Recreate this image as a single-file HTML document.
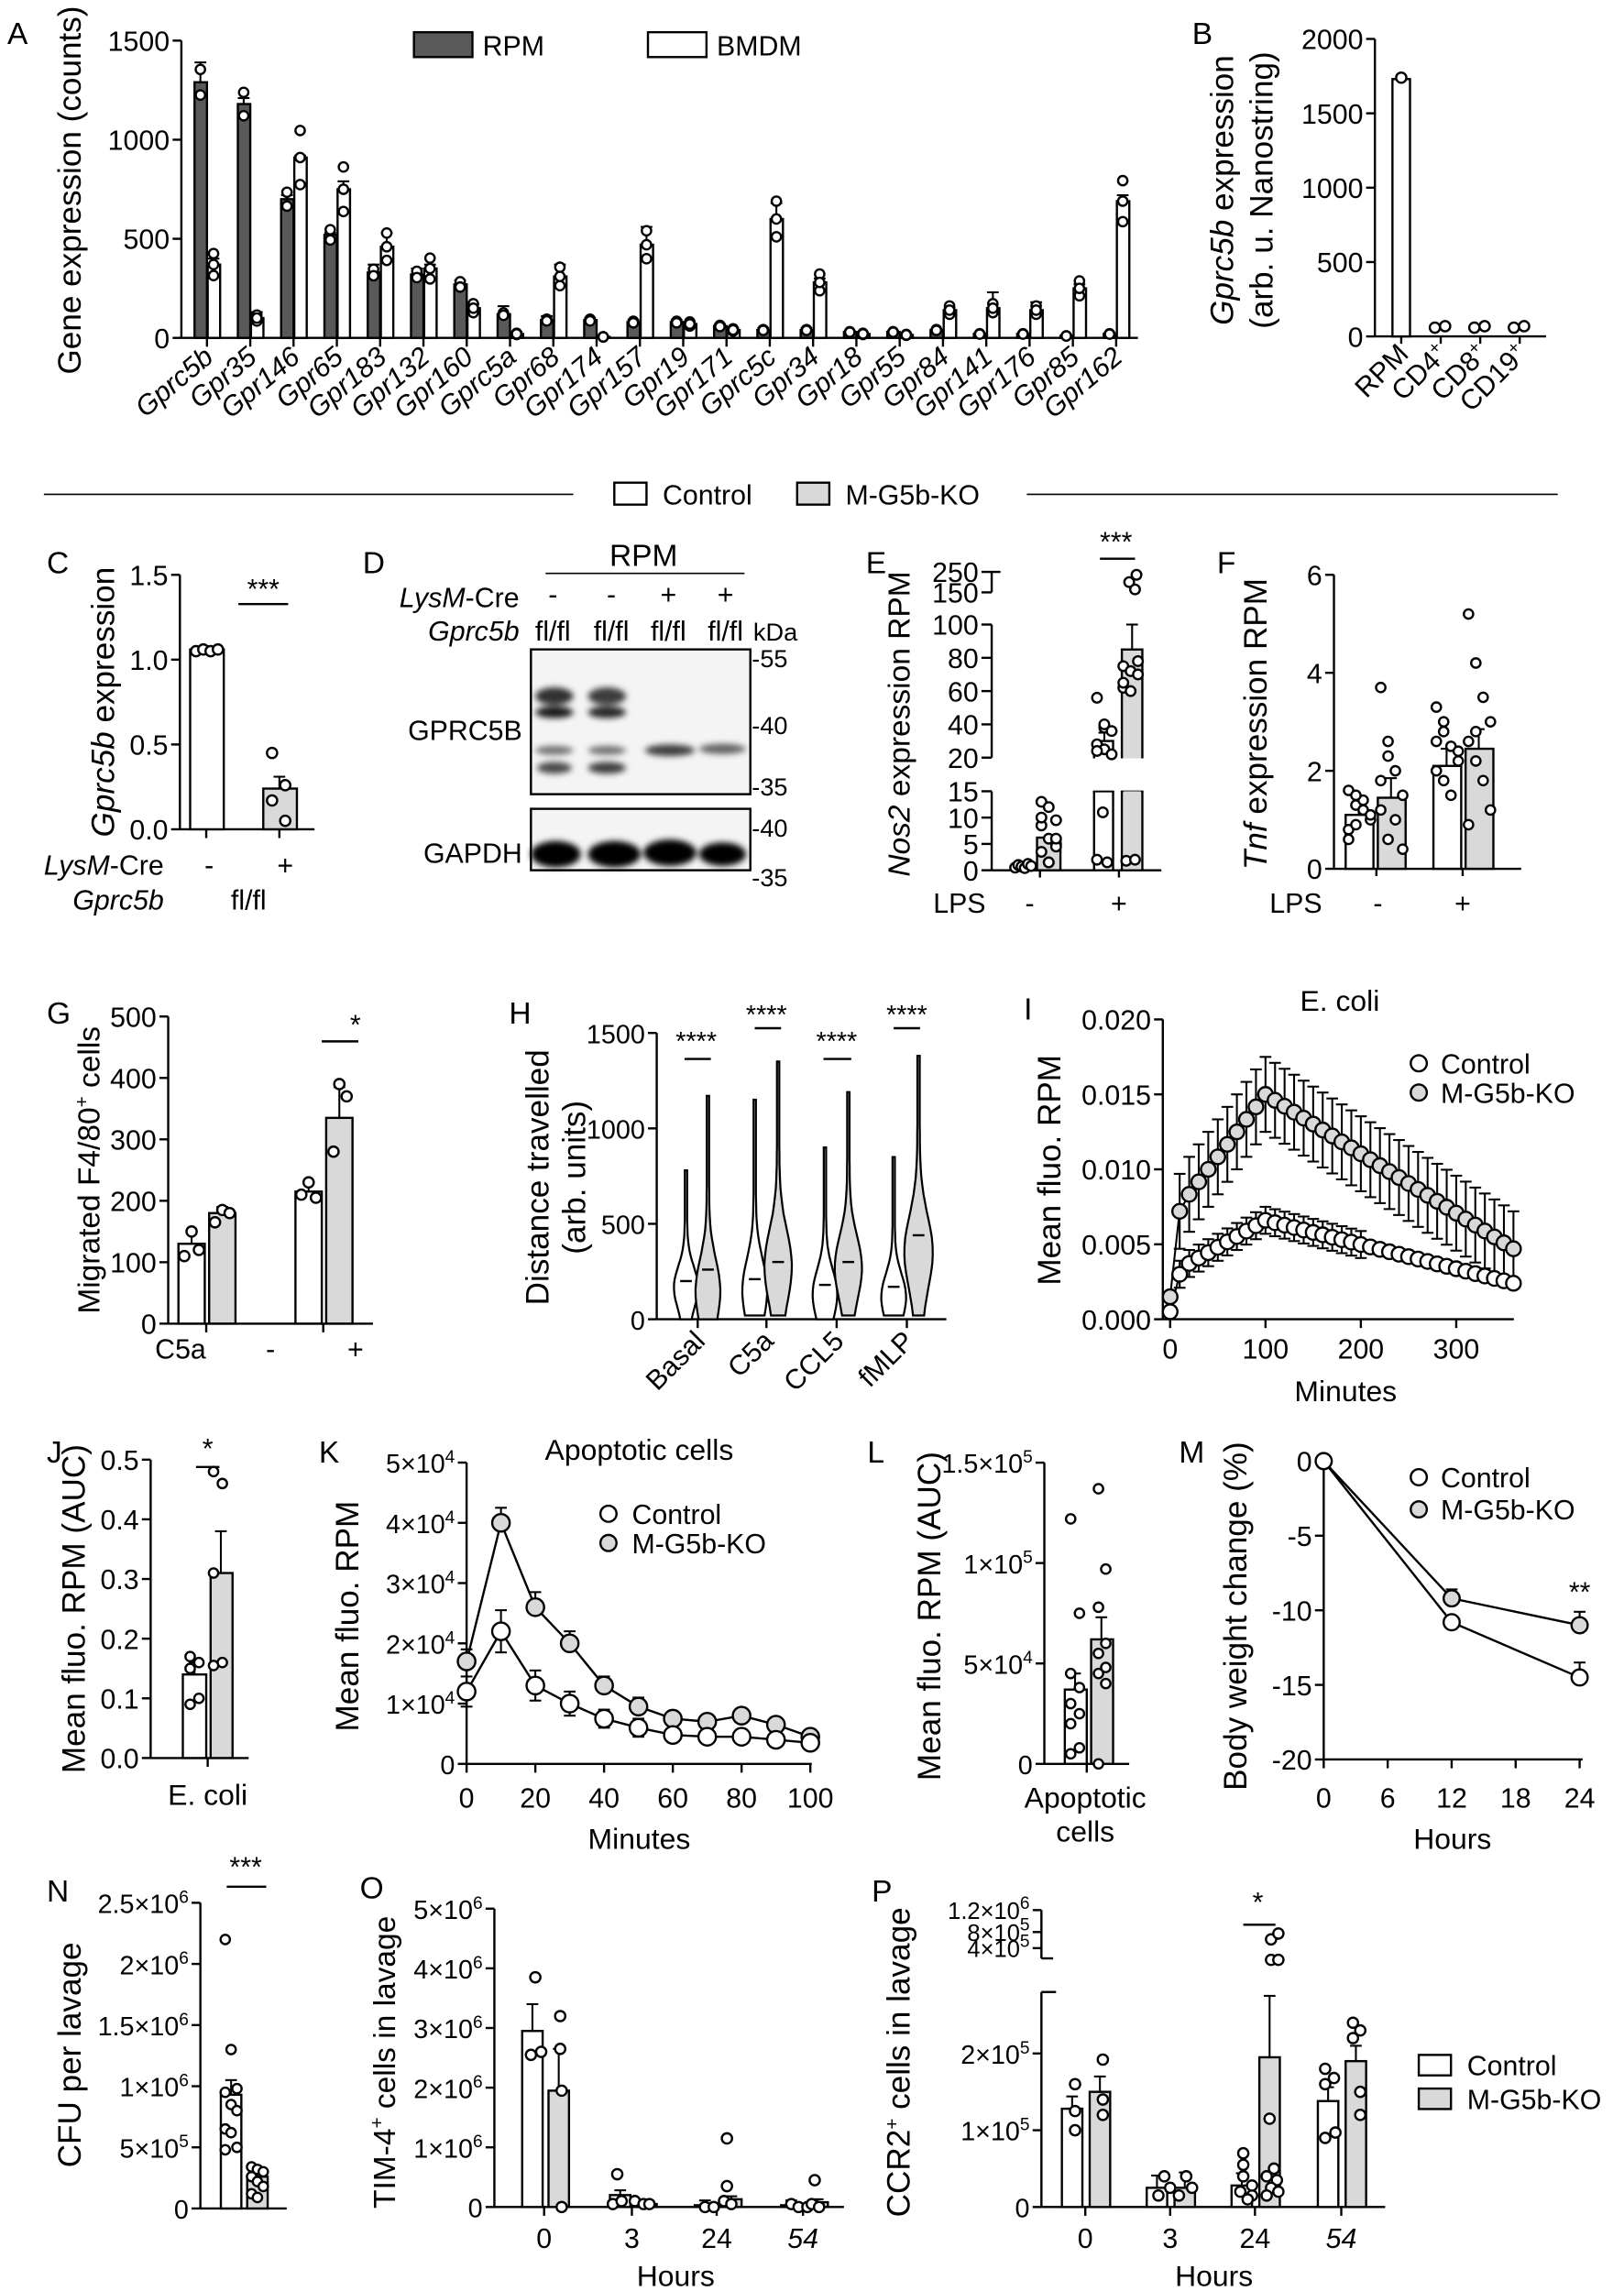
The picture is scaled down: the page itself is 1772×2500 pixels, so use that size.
<!DOCTYPE html>
<html><head><meta charset="utf-8"><style>
html,body{margin:0;padding:0;background:#fff;}
svg{display:block;}
text{font-family:"Liberation Sans",sans-serif;fill:#000;}
</style></head><body>
<svg id="s" width="1772" height="2500" viewBox="0 0 1110.3 1566.4" xmlns="http://www.w3.org/2000/svg">
<rect width="1110.3" height="1566.4" fill="#fff"/>
<g id="g" stroke-linecap="butt"></g>
<g font-size="21">
<text x="5" y="30">A</text><text x="815" y="30">B</text>
<text x="32" y="392">C</text><text x="248" y="392">D</text><text x="592" y="392">E</text><text x="832" y="392">F</text>
<text x="32" y="700">G</text><text x="348" y="700">H</text><text x="700" y="697">I</text>
<text x="32" y="1000">J</text><text x="218" y="1000">K</text><text x="593" y="1000">L</text><text x="806" y="1000">M</text>
<text x="32" y="1300">N</text><text x="246" y="1298">O</text><text x="596" y="1300">P</text>
</g>
<g font-size="19">
<rect x="283" y="22" width="40" height="17" fill="#595959" stroke="#000" stroke-width="1.5"/><text x="330" y="38">RPM</text>
<rect x="443" y="22" width="40" height="17" fill="#fff" stroke="#000" stroke-width="1.5"/><text x="490" y="38">BMDM</text>
<rect x="420" y="330" width="22" height="15" fill="#fff" stroke="#000" stroke-width="1.5"/><text x="453" y="345">Control</text>
<rect x="545" y="330" width="22" height="15" fill="#d9d9d9" stroke="#000" stroke-width="1.5"/><text x="578" y="345">M-G5b-KO</text>
</g>
<line x1="30" y1="338" x2="392" y2="338" stroke="#000" stroke-width="1"/>
<line x1="702" y1="338" x2="1065" y2="338" stroke="#000" stroke-width="1"/>
<g font-size="22" text-anchor="middle">
<text transform="translate(55,130) rotate(-90)">Gene expression (counts)</text>
<text transform="translate(843,130) rotate(-90)"><tspan font-style="italic">Gprc5b</tspan> expression</text>
<text transform="translate(870,130) rotate(-90)">(arb. u. Nanostring)</text>
<text transform="translate(78,480) rotate(-90)"><tspan font-style="italic">Gprc5b</tspan> expression</text>
<text transform="translate(622,495) rotate(-90)" font-size="21"><tspan font-style="italic">Nos2</tspan> expression RPM</text>
<text transform="translate(866,495) rotate(-90)"><tspan font-style="italic">Tnf</tspan> expression RPM</text>
<text transform="translate(68,800) rotate(-90)" font-size="21">Migrated F4/80<tspan font-size="13" dy="-8">+</tspan><tspan dy="8"> cells</tspan></text>
<text transform="translate(375,805) rotate(-90)">Distance travelled</text>
<text transform="translate(400,805) rotate(-90)">(arb. units)</text>
<text transform="translate(725,800) rotate(-90)">Mean fluo. RPM</text>
<text transform="translate(58,1100) rotate(-90)">Mean fluo. RPM (AUC)</text>
<text transform="translate(245,1105) rotate(-90)">Mean fluo. RPM</text>
<text transform="translate(643,1105) rotate(-90)">Mean fluo. RPM (AUC)</text>
<text transform="translate(852,1105) rotate(-90)">Body weight change (%)</text>
<text transform="translate(55,1405) rotate(-90)">CFU per lavage</text>
<text transform="translate(270,1410) rotate(-90)" font-size="21">TIM-4<tspan font-size="13" dy="-8">+</tspan><tspan dy="8"> cells in lavage</tspan></text>
<text transform="translate(622,1410) rotate(-90)">CCR2<tspan font-size="13" dy="-8">+</tspan><tspan dy="8"> cells in lavage</tspan></text>
</g>
<g font-size="20" text-anchor="middle">
<text x="920" y="958">Minutes</text>
<text x="437" y="1264">Minutes</text>
<text x="993" y="1264">Hours</text>
<text x="462" y="1563">Hours</text>
<text x="830" y="1563">Hours</text>
<text x="916" y="691">E. coli</text>
<text x="437" y="998">Apoptotic cells</text>
<text x="142" y="1234">E. coli</text>
<text x="742" y="1236">Apoptotic</text>
<text x="742" y="1259">cells</text>
</g>
<g font-size="19">
<text x="112" y="598" text-anchor="end"><tspan font-style="italic">LysM</tspan>-Cre</text>
<text x="143" y="598" text-anchor="middle">-</text><text x="195" y="598" text-anchor="middle">+</text>
<text x="112" y="622" text-anchor="end" font-style="italic">Gprc5b</text>
<text x="170" y="622" text-anchor="middle">fl/fl</text>
<text x="180" y="409" text-anchor="middle">***</text>
<text x="440" y="387" text-anchor="middle" font-size="21">RPM</text>
<text x="355" y="415" text-anchor="end"><tspan font-style="italic">LysM</tspan>-Cre</text>
<text x="378" y="413" text-anchor="middle">-</text><text x="418" y="413" text-anchor="middle">-</text>
<text x="457" y="413" text-anchor="middle">+</text><text x="496" y="413" text-anchor="middle">+</text>
<text x="355" y="438" text-anchor="end" font-style="italic">Gprc5b</text>
<text x="378" y="438" text-anchor="middle">fl/fl</text><text x="418" y="438" text-anchor="middle">fl/fl</text>
<text x="457" y="438" text-anchor="middle">fl/fl</text><text x="496" y="438" text-anchor="middle">fl/fl</text>
<text x="515" y="438" font-size="17">kDa</text>
<g font-size="17"><text x="514" y="456">-55</text><text x="514" y="502">-40</text><text x="514" y="544">-35</text>
<text x="514" y="572">-40</text><text x="514" y="606">-35</text></g>
<text x="357" y="506" text-anchor="end">GPRC5B</text>
<text x="357" y="590" text-anchor="end">GAPDH</text>
<text x="638" y="624">LPS</text><text x="704" y="624" text-anchor="middle">-</text><text x="765" y="624" text-anchor="middle">+</text>
<text x="763" y="377" text-anchor="middle">***</text>
<text x="868" y="624">LPS</text><text x="942" y="624" text-anchor="middle">-</text><text x="1000" y="624" text-anchor="middle">+</text>
<text x="106" y="929">C5a</text><text x="185" y="929" text-anchor="middle">-</text><text x="243" y="929" text-anchor="middle">+</text>
<text x="243" y="707" text-anchor="middle">*</text>
<text x="142" y="997" text-anchor="middle">*</text>
<text x="1080" y="1095" text-anchor="middle">**</text>
<text x="168" y="1283" text-anchor="middle">***</text>
<text x="860" y="1307" text-anchor="middle">*</text>
</g>
<g font-size="19">
<text x="985" y="734">Control</text><text x="985" y="754">M-G5b-KO</text>
<text x="432" y="1042">Control</text><text x="432" y="1062">M-G5b-KO</text>
<text x="985" y="1017">Control</text><text x="985" y="1039">M-G5b-KO</text>
<rect x="970" y="1405" width="22" height="14" fill="#fff" stroke="#000" stroke-width="1.5"/><text x="1003" y="1419">Control</text>
<rect x="970" y="1428" width="22" height="14" fill="#d9d9d9" stroke="#000" stroke-width="1.5"/><text x="1003" y="1442">M-G5b-KO</text>
</g>
</svg>
<script>
var G=document.getElementById('g'),h='';
function L(a,b,c,d,w){h+='<line x1="'+a+'" y1="'+b+'" x2="'+c+'" y2="'+d+'" stroke="#000" stroke-width="'+(w||1.5)+'"/>';}
function R(x,y,w,ht,f){h+='<rect x="'+x+'" y="'+y+'" width="'+w+'" height="'+ht+'" fill="'+f+'" stroke="#000" stroke-width="1.5"/>';}
function C(x,y,r,f){h+='<circle cx="'+x+'" cy="'+y+'" r="'+(r||3.5)+'" fill="'+(f||'#fff')+'" stroke="#000" stroke-width="1.5"/>';}
function T(x,y,s,o){o=o||{};h+='<text x="'+x+'" y="'+y+'" font-size="'+(o.fs||19)+'" text-anchor="'+(o.a||'end')+'"'+(o.tr?' transform="'+o.tr+'"':'')+(o.it?' font-style="italic"':'')+'>'+s+'</text>';}
function sup(m,e){return m+'×10<tspan font-size="12" dy="-7">'+e+'</tspan>';}
function YA(x,ticks,top,bot,fs){L(x,top,x,bot);ticks.forEach(function(t){L(x-6,t[0],x,t[0]);T(x-8,t[0]+7,t[1],{fs:fs||19});});}
function err(x,y1,y2){L(x,y1,x,y2,1.3);L(x-4,y2,x+4,y2,1.3);}
var GR='#d9d9d9',DK='#595959';
// A
(function(){var y=function(v){return 231-v*0.1355;};
YA(124,[[y(1500),'1500'],[y(1000),'1000'],[y(500),'500'],[y(0),'0']],y(1500),231);
L(124,231,778,231);
var g=['Gprc5b','Gpr35','Gpr146','Gpr65','Gpr183','Gpr132','Gpr160','Gprc5a','Gpr68','Gpr174','Gpr157','Gpr19','Gpr171','Gprc5c','Gpr34','Gpr18','Gpr55','Gpr84','Gpr141','Gpr176','Gpr85','Gpr162'];
var a=[1290,1180,700,520,330,320,270,120,90,90,80,80,60,40,40,30,30,40,20,20,10,20];
var b=[370,100,910,750,460,350,150,20,310,5,470,70,40,600,280,20,15,140,150,140,250,690];
var ea=[100,30,20,10,40,30,20,40,20,10,10,10,10,10,10,5,5,5,5,5,5,5];
var eb=[30,30,10,40,70,20,20,10,60,5,90,10,10,80,20,5,5,10,80,40,20,30];
for(var i=0;i<22;i++){var x=133+i*29.6;
R(x,y(a[i]),8.5,231-y(a[i]),DK);R(x+9,y(b[i]),8.5,231-y(b[i]),'#fff');
err(x+4,y(a[i]),y(a[i]+ea[i]));err(x+13,y(b[i]),y(b[i]+eb[i]));
C(x+4,y(a[i]*1.05),3.2);C(x+4,y(a[i]*0.95),3.2);C(x+13,y(b[i]*1.15),3.2);C(x+13,y(b[i]*0.85),3.2);C(x+13,y(b[i]),3.2);
L(x+8.5,231,x+8.5,237);
T(x+14,246,g[i],{a:'end',it:1,fs:19,tr:'rotate(-40 '+(x+14)+' 246)'});}
})();
// B
(function(){var y=function(v){return 230-v*0.1017;};
YA(940,[[y(2000),'2000'],[y(1500),'1500'],[y(1000),'1000'],[y(500),'500'],[y(0),'0']],y(2000),230);
L(940,230,1057,230);R(952,y(1730),12,230-y(1730),'#fff');C(958,y(1730)-1,3.5);
[[981,988],[1008,1015],[1035,1042]].forEach(function(p){C(p[0],224,3.5);C(p[1],223,3.5);});
var lab=['RPM','CD4<tspan font-size="12" dy="-7">+</tspan>','CD8<tspan font-size="12" dy="-7">+</tspan>','CD19<tspan font-size="12" dy="-7">+</tspan>'];
[958,985,1012,1039].forEach(function(x,i){L(x,230,x,235);T(x+6,243,lab[i],{fs:19,tr:'rotate(-45 '+(x+6)+' 243)'});});
})();
// C
(function(){var y=function(v){return 567-v*116;};
YA(123,[[y(1.5),'1.5'],[y(1.0),'1.0'],[y(0.5),'0.5'],[y(0),'0.0']],y(1.5),567);
L(123,567,215,567);R(130,y(1.06),23,567-y(1.06),'#fff');R(180,y(0.24),23,567-y(0.24),GR);
err(141,y(1.06),y(1.08));err(191,y(0.24),y(0.31));
[1.05,1.06,1.05,1.06].forEach(function(v,i){C(134+i*5,y(v),3.5);});
[0.45,0.26,0.17,0.05].forEach(function(v,i){C(186+(i%2)*9,y(v),3.5);});
L(163,413,197,413);L(141,567,141,573);L(191,567,191,573);
})();
// D
h+='<defs><filter id="bl"><feGaussianBlur stdDeviation="2.2"/></filter></defs>';
R(363,444,150,99,'#f4f4f4');R(363,553,150,42,'#f4f4f4');
h+='<g filter="url(#bl)">';
function band(x,y,w,ht,o){h+='<ellipse cx="'+x+'" cy="'+y+'" rx="'+w+'" ry="'+ht+'" fill="#000" fill-opacity="'+o+'"/>';}
band(379,476,13,6,.8);band(415,476,13,6,.75);band(379,487,13,4,.9);band(415,487,13,4,.85);
band(379,513,13,3,.55);band(415,513,13,3,.55);band(379,525,12,4,.7);band(415,525,13,4,.75);
band(458,513,17,4,.75);band(494,512,16,3.5,.6);
band(380,584,17,9,1);band(420,584,18,9,1);band(458,583,18,9,1);band(494,584,16,8,1);
h+='</g>';L(373,392,509,392,1);
// E
(function(){var x0=678,lo=function(v){return 595-v*3.6;},hi=function(v){return 518-(v-20)*1.1375;};
L(x0,595,x0,541);L(x0,518,x0,427);L(x0,405,x0,391);
[[lo(0),'0'],[lo(5),'5'],[lo(10),'10'],[lo(15),'15']].forEach(function(t){L(x0-7,t[0],x0,t[0]);T(x0-9,t[0]+7,t[1],{fs:19});});
[[518,'20'],[hi(40),'40'],[hi(60),'60'],[hi(80),'80'],[hi(100),'100'],[405,'150'],[391,'250']].forEach(function(t){L(x0-7,t[0],x0,t[0]);T(x0-9,t[0]+7,t[1],{fs:19});});
L(x0,391,x0+6,391);L(678,595,794,595);
R(693,lo(1),12,595-lo(1),'#fff');R(709,lo(6.2),16,595-lo(6.2),GR);
R(748,hi(30),13,541-hi(30),'#fff');h+='<rect x="745" y="518.5" width="20" height="22" fill="#fff"/>';L(748,541,748,595);L(761,541,761,595);
R(767,hi(85),14,541-hi(85),GR);h+='<rect x="765" y="518.5" width="20" height="22" fill="#fff"/>';L(767,541,767,595);L(781,541,781,595);
h+='<rect x="768" y="541" width="12" height="53" fill="'+GR+'"/>';
[0.5,1,0.7,0.4,1.2,0.8].forEach(function(v,i){C(694+i*2.2,lo(v),3.3);});
[13,12,9.5,8.5,6,5,3.5,1.5,4.5,10,1.5,6].forEach(function(v,i){C(712+(i%3)*5,lo(v),3.3);});
err(774,hi(85),hi(100));err(755,hi(30),hi(35));
[56,38,36,28,25,22,24,40].forEach(function(v,i){C(750+(i%3)*5,hi(v),3.3);});C(754,lo(11),3.3);C(750,lo(2),3.3);C(757,lo(1.5),3.3);
[75,72,70,62,60,78,65].forEach(function(v,i){C(768+(i%3)*5,hi(v),3.3);});C(770,lo(1.8),3.3);C(776,lo(2),3.3);
C(772,398,3.3);C(777,393,3.3);C(776,403,3.3);
L(752,382,776,382);L(711,595,711,600);L(765,595,765,600);
})();
// F
(function(){var y=function(v){return 594-v*33.5;};
YA(912,[[y(6),'6'],[y(4),'4'],[y(2),'2'],[y(0),'0']],y(6),594);
L(912,594,1040,594);
R(920,y(1.1),19,594-y(1.1),'#fff');R(942,y(1.45),19,594-y(1.45),GR);R(980,y(2.1),19,594-y(2.1),'#fff');R(1002,y(2.45),19,594-y(2.45),GR);
err(929,y(1.1),y(1.25));err(951,y(1.45),y(1.85));err(989,y(2.1),y(2.45));err(1011,y(2.45),y(2.85));
[1.6,1.3,1.2,1.0,0.8,0.9,1.4,1.1,0.6,1.5].forEach(function(v,i){C(922+(i%4)*5,y(v),3.2);});
[3.7,2.3,2.0,1.5,1.2,0.6,1.0,0.4,1.8,2.6].forEach(function(v,i){C(944+(i%4)*5,y(v),3.2);});
[3.3,2.8,2.5,2.2,2.0,1.8,1.5,2.4,2.6,3.0].forEach(function(v,i){C(982+(i%4)*5,y(v),3.2);});
[5.2,4.2,3.5,3.0,2.6,2.2,1.8,1.2,0.9,2.8].forEach(function(v,i){C(1004+(i%4)*5,y(v),3.2);});
L(941,594,941,599);L(1000,594,1000,599);
})();
// G
(function(){var y=function(v){return 905-v*0.42;};
YA(115,[[y(500),'500'],[y(400),'400'],[y(300),'300'],[y(200),'200'],[y(100),'100'],[y(0),'0']],y(500),905);
L(115,905,255,905);
R(122,y(130),18,905-y(130),'#fff');R(143,y(180),18,905-y(180),GR);R(202,y(215),18,905-y(215),'#fff');R(223,y(335),18,905-y(335),GR);
err(131,y(130),y(150));err(152,y(180),y(190));err(211,y(215),y(230));err(232,y(335),y(385));
C(126,y(110));C(131,y(150));C(136,y(120));C(147,y(165));C(152,y(185));C(157,y(180));
C(206,y(210));C(211,y(230));C(216,y(205));C(228,y(280));C(232,y(390));C(237,y(370));
L(220,712,245,712);L(141,905,141,911);L(221,905,221,911);
})();
// H
(function(){var y=function(v){return 902-v*0.1305;};
YA(449,[[y(1500),'1500'],[y(1000),'1000'],[y(500),'500'],[y(0),'0']],y(1500),902,18);
L(449,902,647,902);
function V(cx,top,bot,med,wid,f,mode){var pts=[];var n=30;
for(var k=0;k<=n;k++){var v=bot+(top-bot)*k/n;var t=(v-bot)/(top-bot);var w=wid*Math.exp(-Math.pow((t-mode)/0.2,2))+0.8+wid*0.35*Math.max(0,0.4-t);pts.push([w,y(v)]);}
var d='M'+cx+','+y(bot);pts.forEach(function(p){d+=' L'+(cx+p[0]).toFixed(1)+','+p[1].toFixed(1);});
for(var k=pts.length-1;k>=0;k--){d+=' L'+(cx-pts[k][0]).toFixed(1)+','+pts[k][1].toFixed(1);}
h+='<path d="'+d+'Z" fill="'+f+'" stroke="#000" stroke-width="1.4"/>';
L(cx-4,y(med),cx+4,y(med),1.5);}
V(469,780,0,200,7,'#fff',0.22);V(484,1170,0,260,7,GR,0.13);
V(516,1150,20,210,7,'#fff',0.12);V(532,1350,20,300,8,GR,0.2);
V(564,900,0,180,7,'#fff',0.15);V(580,1190,20,300,8,GR,0.22);
V(611,850,20,170,7,'#fff',0.12);V(628,1380,20,440,8.5,GR,0.25);
h+='<g font-size="18" text-anchor="middle"><text x="476" y="718">****</text><text x="524" y="700">****</text><text x="572" y="718">****</text><text x="620" y="700">****</text></g>';
L(468,724,486,724);L(516,703,534,703);L(563,724,582,724);L(611,703,629,703);
var lb=['Basal','C5a','CCL5','fMLP'];[477,524,572,620].forEach(function(x,i){L(x,902,x,908);T(x+6,918,lb[i],{fs:19,tr:'rotate(-45 '+(x+6)+' 918)'});});
})();
// I
(function(){var y=function(v){return 902-v*10250;},x=function(t){return 800+t*0.652;};
YA(795,[[y(.02),'0.020'],[y(.015),'0.015'],[y(.01),'0.010'],[y(.005),'0.005'],[y(0),'0.000']],y(.02),902);
L(795,902,1035,902);[0,100,200,300].forEach(function(t){L(x(t),902,x(t),908);T(x(t),929,t,{a:'middle',fs:19});});
var c=[],k=[];for(var t=0;t<=360;t+=10){var cv=t==0?0.0005:(t<=100?0.003+0.0036*(t/100):0.0066-0.0042*((t-100)/260));
var kv=t==0?0.0015:(t==10?0.0072:(t<=100?0.0075+0.0075*((t-10)/90):0.015-0.0103*((t-100)/260)));
if(t==10)cv=0.003;c.push([t,cv]);k.push([t,kv]);}
var pk='',pc='';k.forEach(function(p,i){pk+=(i?' L':'M')+x(p[0]).toFixed(1)+','+y(p[1]).toFixed(1);if(p[0]>0){err(x(p[0]),y(p[1]),y(p[1]+0.0025));err(x(p[0]),y(p[1]),y(p[1]-0.0025));}});
c.forEach(function(p,i){pc+=(i?' L':'M')+x(p[0]).toFixed(1)+','+y(p[1]).toFixed(1);if(p[0]>0&&p[0]<=200){err(x(p[0]),y(p[1]),y(p[1]+0.0009));err(x(p[0]),y(p[1]),y(p[1]-0.0009));}});
h+='<path d="'+pk+'" fill="none" stroke="#000" stroke-width="1.3"/><path d="'+pc+'" fill="none" stroke="#000" stroke-width="1.3"/>';
k.forEach(function(p){C(x(p[0]),y(p[1]),5,GR);});c.forEach(function(p){C(x(p[0]),y(p[1]),5,'#fff');});
C(970,727,5.5,'#fff');C(970,747,5.5,GR);
})();
// J
(function(){var y=function(v){return 1202-v*408;};
YA(103,[[y(.5),'0.5'],[y(.4),'0.4'],[y(.3),'0.3'],[y(.2),'0.2'],[y(.1),'0.1'],[y(0),'0.0']],y(.5),1202);
L(103,1202,170,1202);R(125,y(.14),16,1202-y(.14),'#fff');R(144,y(.31),15,1202-y(.31),GR);
err(133,y(.14),y(.16));err(151,y(.31),y(.38));
[.17,.16,.15,.1,.09].forEach(function(v,i){C(130+(i%2)*6,y(v),3.2);});[.48,.46,.31,.16,.155].forEach(function(v,i){C(146+(i%2)*6,y(v),3.2);});
L(134,1003,150,1003);L(142,1202,142,1208);
})();
// K
(function(){var y=function(v){return 1206-v*4.12;},x=function(t){return 319+t*2.35;};
YA(319,[[y(50),sup('5','4')],[y(40),sup('4','4')],[y(30),sup('3','4')],[y(20),sup('2','4')],[y(10),sup('1','4')],[y(0),'0']],y(50),1206,18);
L(319,1206,555,1206);[0,20,40,60,80,100].forEach(function(t){L(x(t),1206,x(t),1212);T(x(t),1236,t,{a:'middle',fs:19});});
var c=[12,22,13,10,7.5,6,4.8,4.5,4.5,4,3.5],k=[17,40,26,20,13,9.5,7.5,7,8,6.5,4.5],ec=[2.5,3.5,2.5,2,1.5,1.5,1,1,1,1,0.5],ek=[2,2.5,2.5,2,1.5,1.5,1,1,1,1,0.5];
var pk='',pc='';for(var i=0;i<11;i++){pk+=(i?' L':'M')+x(i*10)+','+y(k[i]);pc+=(i?' L':'M')+x(i*10)+','+y(c[i]);err(x(i*10),y(k[i]),y(k[i]+ek[i]));err(x(i*10),y(c[i]),y(c[i]+ec[i]));err(x(i*10),y(c[i]),y(c[i]-ec[i]));}
h+='<path d="'+pk+'" fill="none" stroke="#000" stroke-width="1.5"/><path d="'+pc+'" fill="none" stroke="#000" stroke-width="1.5"/>';
for(i=0;i<11;i++){C(x(i*10),y(k[i]),6,GR);}for(i=0;i<11;i++){C(x(i*10),y(c[i]),6,'#fff');}
C(416,1035,5.5,'#fff');C(416,1055,5.5,GR);
})();
// L
(function(){var y=function(v){return 1206-v*1.373;};
YA(714,[[y(150),sup('1.5','5')],[y(100),sup('1','5')],[y(50),sup('5','4')],[y(0),'0']],y(150),1206,18);
L(714,1206,772,1206);R(728,y(37),15,1206-y(37),'#fff');R(746,y(62),15,1206-y(62),GR);
err(735,y(37),y(45));err(753,y(62),y(73));
[122,75,45,38,30,25,20,8,5].forEach(function(v,i){C(732+(i%2)*6,y(v),3.2);});
[137,97,78,60,55,48,45,40,0].forEach(function(v,i){C(751+(i%2)*5,y(v),3.2);});
L(743,1206,743,1212);
})();
// M
(function(){var y=function(v){return 999-v*10.2;},x=function(t){return 905+t*7.29;};
YA(905,[[y(0),'0'],[y(-5),'-5'],[y(-10),'-10'],[y(-15),'-15'],[y(-20),'-20']],y(0),y(-20));
L(905,y(-20),1082,y(-20));[0,6,12,18,24].forEach(function(t){L(x(t),y(-20),x(t),y(-20)+6);T(x(t),1236,t,{a:'middle',fs:19});});
err(x(12),y(-9.2),y(-8.6));err(x(24),y(-11),y(-10.1));err(x(24),y(-14.5),y(-13.5));err(x(12),y(-10.8),y(-10.4));
h+='<path d="M'+x(0)+','+y(0)+' L'+x(12)+','+y(-9.2)+' L'+x(24)+','+y(-11)+'" fill="none" stroke="#000" stroke-width="1.5"/>';
h+='<path d="M'+x(0)+','+y(0)+' L'+x(12)+','+y(-10.8)+' L'+x(24)+','+y(-14.5)+'" fill="none" stroke="#000" stroke-width="1.5"/>';
C(x(12),y(-9.2),5.5,GR);C(x(24),y(-11),5.5,GR);C(x(12),y(-10.8),5.5);C(x(24),y(-14.5),5.5);C(x(0),y(0),5.5);
C(970,1010,5.5,'#fff');C(970,1032,5.5,GR);
})();
// N
(function(){var y=function(v){return 1510-v*83.6;};
YA(137,[[y(2.5),sup('2.5','6')],[y(2),sup('2','6')],[y(1.5),sup('1.5','6')],[y(1),sup('1','6')],[y(.5),sup('5','5')],[y(0),'0']],y(2.5),1510,18);
L(137,1510,196,1510);R(151,y(.93),14,1510-y(.93),'#fff');R(169,y(.26),14,1510-y(.26),GR);
err(158,y(.93),y(1.05));err(176,y(.26),y(.3));
[2.2,1.3,.98,.95,.85,.8,.65,.62,.5,.48].forEach(function(v,i){C(154+(i%3)*4,y(v),3.2);});
[.34,.32,.3,.26,.22,.18,.12,.09].forEach(function(v,i){C(172+(i%3)*4,y(v),3.2);});
L(155,1290,182,1290);
})();
// O
(function(){var y=function(v){return 1509-v*40.8;};
YA(338,[[y(5),sup('5','6')],[y(4),sup('4','6')],[y(3),sup('3','6')],[y(2),sup('2','6')],[y(1),sup('1','6')],[y(0),'0']],y(5),1509,18);
L(338,1509,577,1509);
var gx=[372,432,490,549],wv=[2.95,0.2,0.03,0.03],gv=[1.95,0.05,0.13,0.08],lab=['0','3','24','<tspan font-style="italic">54</tspan>'];
gx.forEach(function(x,i){R(x-15,y(wv[i]),14,1509-y(wv[i]),'#fff');R(x+3,y(gv[i]),14,1509-y(gv[i]),GR);
err(x-8,y(wv[i]),y(wv[i]+(i==0?.45:.08)));err(x+10,y(gv[i]),y(gv[i]+(i==0?.7:.05)));L(x,1509,x,1515);T(x,1537,lab[i],{a:'middle',fs:19});});
C(366,y(3.85));C(363,y(2.55));C(370,y(2.6));C(383,y(3.2));C(383,y(2.65));C(384,y(1.95));C(384,y(0));
C(422,y(.55));C(419,y(.05));C(425,y(.1));C(434,y(.1));C(440,y(.05));C(444,y(.05));
C(482,y(0));C(488,y(0));C(497,y(1.15));C(497,y(.35));C(495,y(.1));C(500,y(.05));
C(541,y(.05));C(546,y(0));C(552,y(0));C(557,y(.45));C(555,y(.05));C(560,y(0));
})();
// P
(function(){var y=function(v){return 1509-v*0.525;};
L(712,1509,712,1362);L(712,1339,712,1306);
[[y(0),'0'],[y(100),sup('1','5')],[y(200),sup('2','5')]].forEach(function(t){L(706,t[0],712,t[0]);T(704,t[0]+7,t[1],{fs:18});});
L(712,1362,722,1362);L(712,1339,720,1339);
[[1306,sup('1.2','6')],[1321,sup('8','5')],[1332,sup('4','5')]].forEach(function(t){L(706,t[0],712,t[0]);T(704,t[0]+6,t[1],{fs:16});});
L(712,1509,947,1509);
var gx=[742,800,858,917],wv=[128,25,28,138],gv=[150,25,195,190],lab=['0','3','24','<tspan font-style="italic">54</tspan>'];
gx.forEach(function(x,i){R(x-16,y(wv[i]),14,1509-y(wv[i]),'#fff');R(x+3,y(gv[i]),14,1509-y(gv[i]),GR);
err(x-9,y(wv[i]),y(wv[i]+(i==3?18:16)));err(x+10,y(gv[i]),y(gv[i]+(i==2?80:20)));L(x,1509,x,1515);T(x,1537,lab[i],{a:'middle',fs:19});});
C(735,y(160));C(735,y(100));C(735,y(125));C(754,y(192));C(754,y(140));C(754,y(120));
C(796,y(40));C(792,y(15));C(800,y(25));C(806,y(15));C(815,y(25));C(811,y(40));
C(850,y(70));C(850,y(55));C(850,y(40));C(848,y(20));C(856,y(15));C(853,y(10));C(856,y(28));
C(868,y(115));C(871,y(50));C(866,y(40));C(873,y(35));C(869,y(25));C(866,y(15));C(874,y(20));
C(869,1326);C(874,1322);C(869,1340);C(874,1340);
C(906,y(180));C(906,y(160));C(912,y(168));C(906,y(90));C(913,y(97));
C(925,y(240));C(930,y(230));C(925,y(220));C(930,y(150));C(930,y(120));
L(850,1316,872,1316);
})();
G.innerHTML=h;
</script>
</body></html>
